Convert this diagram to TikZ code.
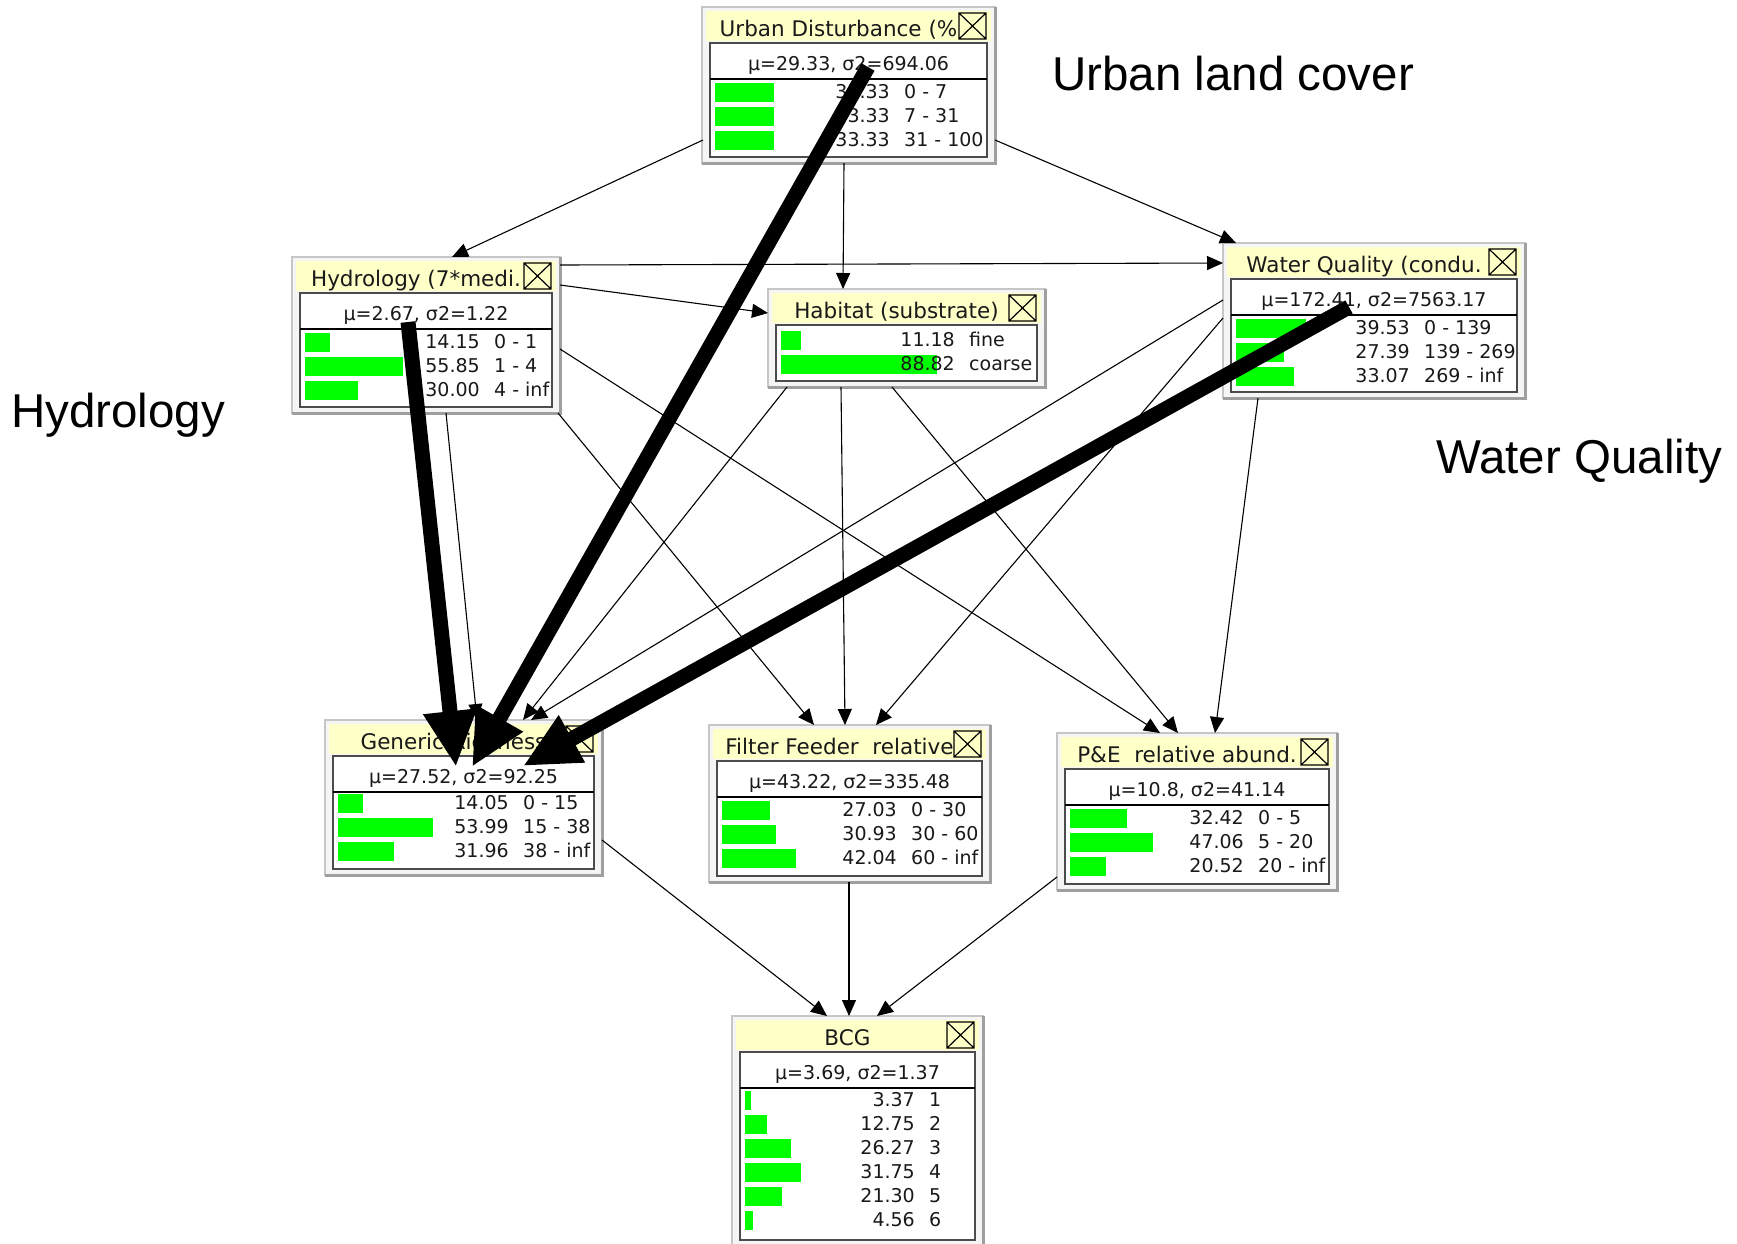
\documentclass[tikz,border=0pt]{standalone}
\usepackage{fontspec}
\setmainfont{DejaVu Sans}
\newfontfamily\labelfont{Liberation Sans}
\usepackage{tikz}
\usetikzlibrary{arrows.meta, calc}
\definecolor{paleyellow}{RGB}{255,255,200}
\definecolor{netgreen}{RGB}{0,255,0}
\tikzstyle{boxframe} = [draw=gray!45, fill=gray!8, line width=2.5pt, inner sep=0pt, outer sep=0pt, anchor=north west]
\tikzstyle{boxshadow} = [draw=gray!75, line width=3pt]
\tikzstyle{titlebar} = [fill=paleyellow]
\tikzstyle{panel} = [draw=black!70, fill=white, line width=1.2pt]
\tikzstyle{bar} = [fill=netgreen]
\tikzstyle{titletext} = [font=\fontsize{21.5}{24}\selectfont, inner sep=0pt, anchor=base, text=black!90]
\tikzstyle{stattext} = [font=\fontsize{19}{22}\selectfont, inner sep=0pt, anchor=base, text=black!90]
\tikzstyle{rowtext} = [font=\fontsize{19}{22}\selectfont, inner sep=0pt, text=black!90]
\tikzstyle{link} = [line width=1.1pt, -{Triangle[length=16pt,width=14pt]}]
\tikzstyle{bigarrow} = [line width=15pt, -{Triangle[length=56pt,width=50pt]}]
\tikzstyle{biglabel} = [font=\labelfont\fontsize{47.5}{50}\selectfont, inner sep=0pt, anchor=base west]

% frame, title bar and close box of one node: name, left, top, width, height, title
\newcommand{\beliefbox}[6]{%
  \node[boxframe, minimum width=#4pt, minimum height=#5pt] (#1) at (#2,#3) {};
  \draw[boxshadow] (#1.south west) -- (#1.south east) -- (#1.north east);
  \fill[titlebar] ($(#1.north west)+(4,4)$) rectangle ($(#1.north east)+(-4,34)$);
  \draw[panel] ($(#1.north west)+(8,36)$) rectangle ($(#1.south east)+(-8,-6)$);
  \draw[line width=1.2pt] ($(#1.north east)+(-36,6)$) rectangle ($(#1.north east)+(-9,32)$)
    ($(#1.north east)+(-36,6)$) -- ($(#1.north east)+(-9,32)$)
    ($(#1.north east)+(-36,32)$) -- ($(#1.north east)+(-9,6)$);
  \node[titletext] (#1-title) at ($(#1.north)+(-10,29)$) {#6};
}
% mean and variance line
\newcommand{\beliefstats}[2]{%
  \node[stattext] (#1-stats) at ($(#1.north)+(0,63)$) {#2};
  \draw[line width=1.2pt] ($(#1.north west)+(8,72)$) -- ($(#1.north east)+(-8,72)$);
}
% belief bars: name, first row centre, value column from right, list pct/range
\newcommand{\beliefrows}[4]{%
  \foreach \pct/\range [count=\i from 0] in {#4} {
    \fill[bar] ($(#1.north west)+(13,#2-9.5+24*\i)$) rectangle ++(1.76*\pct,19);
    \node[rowtext, anchor=base east] (#1-v\i) at ($(#1.north east)+(-#3,#2+6.5+24*\i)$) {\pct};
    \node[rowtext, anchor=base west] (#1-r\i) at ($(#1.north east)+(-#3+14,#2+6.5+24*\i)$) {\range};
  }}

\begin{document}
\begin{tikzpicture}[x=1pt, y=-1pt]
\useasboundingbox (0,0) rectangle (1737,1243);

% Urban Disturbance
\beliefbox{urban}{702}{7}{293}{156}{Urban Disturbance (\%}
\beliefstats{urban}{μ=29.33, σ2=694.06}
\beliefrows{urban}{85}{105}{33.33/0 - 7, 33.33/7 - 31, 33.33/31 - 100}

% Hydrology
\beliefbox{hydro}{292}{257}{268}{156}{Hydrology (7*medi.}
\beliefstats{hydro}{μ=2.67, σ2=1.22}
\beliefrows{hydro}{85}{80}{14.15/0 - 1, 55.85/1 - 4, 30.00/4 - inf}

% Habitat
\beliefbox{habitat}{768}{289}{277}{98}{Habitat (substrate)}
\beliefrows{habitat}{51}{90}{11.18/fine, 88.82/coarse}

% Water Quality
\beliefbox{water}{1223}{243}{302}{155}{Water Quality (condu.}
\beliefstats{water}{μ=172.41, σ2=7563.17}
\beliefrows{water}{85}{115}{39.53/0 - 139, 27.39/139 - 269, 33.07/269 - inf}

% Generic Richness
\beliefbox{generic}{325}{720}{277}{155}{Generic Richness}
\beliefstats{generic}{μ=27.52, σ2=92.25}
\beliefrows{generic}{83}{93}{14.05/0 - 15, 53.99/15 - 38, 31.96/38 - inf}

% Filter Feeder
\beliefbox{filter}{709}{725}{281}{157}{Filter Feeder\ \ relative}
\beliefstats{filter}{μ=43.22, σ2=335.48}
\beliefrows{filter}{85}{93}{27.03/0 - 30, 30.93/30 - 60, 42.04/60 - inf}

% P&E
\beliefbox{pe}{1057}{733}{280}{157}{P\&E\ \ relative abund.}
\beliefstats{pe}{μ=10.8, σ2=41.14}
\beliefrows{pe}{85}{93}{32.42/0 - 5, 47.06/5 - 20, 20.52/20 - inf}

% BCG
\beliefbox{bcg}{732}{1016}{251}{230}{BCG}
\beliefstats{bcg}{μ=3.69, σ2=1.37}
\beliefrows{bcg}{84}{68}{3.37/1, 12.75/2, 26.27/3, 31.75/4, 21.30/5, 4.56/6}

% Links
\draw[link] ($(urban.south west)+(1,-23)$) -- ($(hydro.north west)+(160,0)$);
\draw[link] ($(urban.south west)+(142,0)$) -- ($(habitat.north west)+(75,0)$);
\draw[link] ($(urban.south east)+(0,-23)$) -- ($(water.north west)+(13,0)$);
\draw[link] ($(hydro.north east)+(0,8)$) -- ($(water.north west)+(0,20)$);
\draw[link] ($(hydro.north east)+(0,28)$) -- ($(habitat.north west)+(0,24)$);
\draw[link] ($(hydro.south west)+(154,0)$) -- ($(generic.north west)+(152,0)$);
\draw[link] ($(hydro.south east)+(-2,0)$) -- ($(filter.north west)+(105,0)$);
\draw[link] ($(hydro.north east)+(0,92)$) -- ($(pe.north west)+(103,0)$);
\draw[link] ($(habitat.south west)+(19,0)$) -- ($(generic.north west)+(198,0)$);
\draw[link] ($(habitat.south west)+(73,0)$) -- ($(filter.north west)+(136,0)$);
\draw[link] ($(habitat.south west)+(124,0)$) -- ($(pe.north west)+(121,0)$);
\draw[link] ($(water.north west)+(0,57)$) -- ($(generic.north west)+(206,0)$);
\draw[link] ($(water.north west)+(0,75)$) -- ($(filter.north west)+(167,0)$);
\draw[link] ($(water.south west)+(35,0)$) -- ($(pe.north west)+(158,0)$);
\draw[link] ($(generic.south east)+(0,-35)$) -- ($(bcg.north west)+(95,0)$);
\draw[link] ($(filter.south west)+(140,0)$) -- ($(bcg.north west)+(117,0)$);
\draw[link] ($(pe.south west)+(0,-13)$) -- ($(bcg.north west)+(145,0)$);

% Thick arrows onto Generic Richness
\coordinate (hydroTail) at ($(hydro.north west)+(116,65)$);
\coordinate (urbanTail) at ($(urban.north west)+(166,60)$);
\coordinate (waterTail) at ($(water.north west)+(126,64)$);
\coordinate (hydroTip) at ($(generic.north west)+(131,47)$);
\coordinate (urbanTip) at ($(generic.north west)+(147,47)$);
\coordinate (waterTip) at ($(generic.north west)+(198,46)$);
\draw[bigarrow] (hydroTail) -- (hydroTip);
\draw[bigarrow] (urbanTail) -- (urbanTip);
\draw[bigarrow] (waterTail) -- (waterTip);

% Labels
\node[biglabel] (urbanlabel) at (1052,90) {Urban land cover};
\node[biglabel] (hydrolabel) at (11,427) {Hydrology};
\node[biglabel] (waterlabel) at (1436,473) {Water Quality};
\end{tikzpicture}
\end{document}
